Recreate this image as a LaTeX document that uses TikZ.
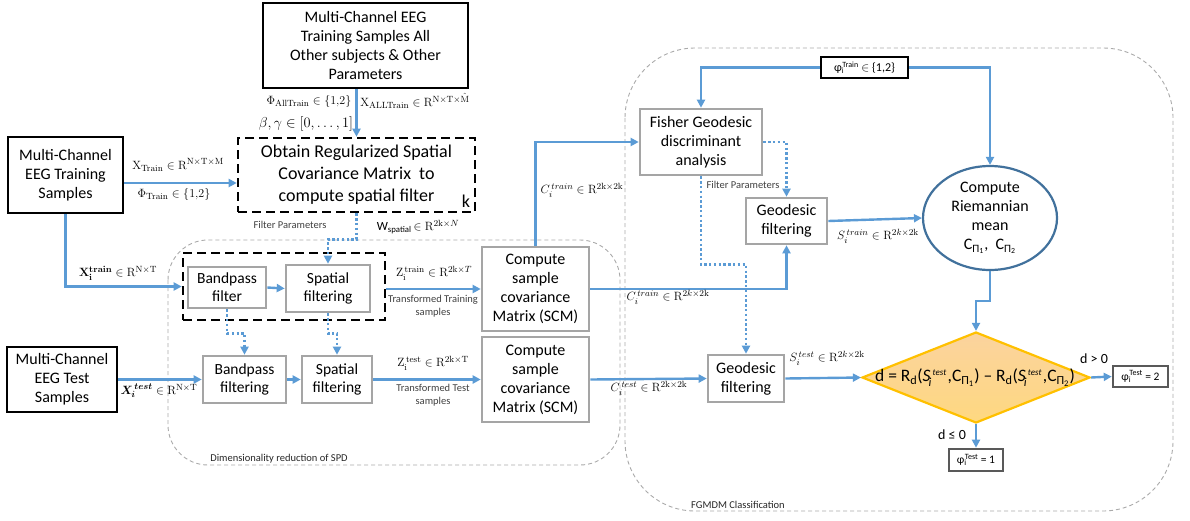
\documentclass[tikz,border=0pt]{standalone}
\usepackage{amsmath}
\usepackage[no-math]{fontspec}
\setmainfont{Carlito}
\usetikzlibrary{arrows.meta,shapes.geometric,calc}
\definecolor{flow}{RGB}{91,155,213}
\definecolor{boxgray}{RGB}{165,165,165}
\definecolor{regiongray}{RGB}{170,170,170}
\definecolor{ellblue}{RGB}{65,113,156}
\definecolor{gold}{RGB}{255,192,0}
\definecolor{notegray}{RGB}{64,64,64}
\definecolor{outgray}{RGB}{89,89,89}
\tikzset{
  mainbox/.style={draw=black, line width=2.6pt, fill=white, align=center, inner sep=0pt,
    font=\fontsize{16}{19}\selectfont},
  graybox/.style={draw=boxgray, line width=2.6pt, fill=white, align=center, inner sep=0pt,
    font=\fontsize{16}{19}\selectfont},
  smallbox/.style={graybox, font=\fontsize{15.5}{18}\selectfont},
  dashbox/.style={draw=black, line width=2.6pt, dash pattern=on 9pt off 5pt, align=center, inner sep=0pt},
  outbox/.style={draw=outgray, line width=2.6pt, fill=white, inner sep=0pt},
  region/.style={draw=regiongray, line width=0.9pt, dash pattern=on 4pt off 3pt},
  arr/.style={draw=flow, line width=2.4pt, -{Triangle[length=8pt,width=8pt]}},
  dotarr/.style={draw=flow, line width=2.4pt, dash pattern=on 2.4pt off 2.4pt, -{Triangle[length=8pt,width=8pt]}},
  lab/.style={inner sep=0pt, font=\fontsize{12.5}{15}\selectfont},
  note/.style={inner sep=0pt, text=notegray, font=\fontsize{10.5}{12.5}\selectfont, align=center},
}
\begin{document}
\begin{tikzpicture}[x=1pt,y=-1pt]
\useasboundingbox (0,0) rectangle (1190,520);

% grouping regions
\draw[region, rounded corners=40pt] (168,240) rectangle (620,465);
\draw[region, rounded corners=70pt] (625,48) rectangle (1173,511);
\node[inner sep=0pt, font=\fontsize{10.5}{12}\selectfont, text=black!85] (lspd) at (279,459) {Dimensionality reduction of SPD};
\node[inner sep=0pt, font=\fontsize{10.5}{12}\selectfont, text=black!85] (lfg) at (738,505) {FGMDM Classification};

% input boxes
\node[mainbox, minimum width=205pt, minimum height=85pt] (top) at (365.5,45.5)
  {Multi-Channel EEG\\Training Samples All\\Other subjects \& Other\\Parameters};
\node[mainbox, minimum width=115pt, minimum height=76pt] (trainbox) at (65.5,175)
  {Multi-Channel\\EEG Training\\Samples};
\node[mainbox, minimum width=110pt, minimum height=65pt] (testbox) at (62,379.5)
  {Multi-Channel\\EEG Test\\Samples};

% regularized CSP
\node[dashbox, minimum width=237pt, minimum height=74pt, font=\fontsize{18}{22}\selectfont] (reg) at (356.5,175)
  {Obtain Regularized Spatial\\Covariance Matrix~ to\\compute spatial filter};
\node[inner sep=0pt, font=\fontsize{18}{20}\selectfont] (kk) at (466,201) {k};

% filtering chain
\node[dashbox, minimum width=202pt, minimum height=67pt] (inner) at (284,286.5) {};
\node[smallbox, minimum width=78pt, minimum height=41pt] (bpf) at (227,287.5) {Bandpass\\filter};
\node[smallbox, minimum width=84pt, minimum height=47pt] (spf) at (328,288.5) {Spatial\\filtering};
\node[smallbox, minimum width=83pt, minimum height=47pt] (bpf2) at (244.5,379.5) {Bandpass\\filtering};
\node[smallbox, minimum width=70pt, minimum height=47pt] (spf2) at (337,379.5) {Spatial\\filtering};

\node[graybox, minimum width=107pt, minimum height=84pt] (scm1) at (535.5,289)
  {Compute\\sample\\covariance\\Matrix (SCM)};
\node[graybox, minimum width=107pt, minimum height=85pt] (scm2) at (535.5,379.5)
  {Compute\\sample\\covariance\\Matrix (SCM)};

% classification
\node[graybox, minimum width=122pt, minimum height=66pt] (fisher) at (701,142)
  {Fisher Geodesic\\discriminant\\analysis};
\node[graybox, minimum width=81pt, minimum height=46pt] (geo1) at (786.5,221) {Geodesic\\filtering};
\node[graybox, minimum width=76pt, minimum height=47pt] (geo2) at (746,378.5) {Geodesic\\filtering};
\node[mainbox, minimum width=87pt, minimum height=21pt, font=\fontsize{12}{14}\selectfont] (phitrain) at (864.5,67.5)
  {φ\textsubscript{i}\textsuperscript{\kern-0.25em Train} $\in$ \{1,2\}};
\node[ellipse, draw=ellblue, line width=2.2pt, fill=white, minimum width=134pt, minimum height=104pt,
  inner sep=0pt, align=center, font=\fontsize{16}{19}\selectfont] (ell) at (990,218)
  {Compute\\Riemannian\\mean\\C\textsubscript{Π\textsubscript{1}},~ C\textsubscript{Π\textsubscript{2}}};
\node[diamond, draw=gold, line width=2.2pt, top color={rgb,255:red,251;green,211;blue,158},
  bottom color={rgb,255:red,254;green,216;blue,128}, minimum width=228pt, minimum height=91pt,
  inner sep=0pt] (dia) at (976,377.5) {};
\node[inner sep=0pt, font=\fontsize{17.5}{20}\selectfont] (diatext) at (975,378)
  {d = R\textsubscript{d}(\textit{S}$_{\!\textit{i}}^{\,\textit{\small test}}$\kern0.05em,C\textsubscript{Π\textsubscript{1}}) -- R\textsubscript{d}(\textit{S}$_{\!\textit{i}}^{\,\textit{\small test}}$\kern0.05em,C\textsubscript{Π\textsubscript{2}})};
\node[outbox, minimum width=55pt, minimum height=21pt, font=\fontsize{11.5}{13}\selectfont] (pt2) at (1140.5,376.5)
  {φ\textsubscript{i}\textsuperscript{\kern-0.25em Test} = 2};
\node[outbox, minimum width=54pt, minimum height=22pt, font=\fontsize{11.5}{13}\selectfont] (pt1) at (976,460)
  {φ\textsubscript{i}\textsuperscript{\kern-0.25em Test} = 1};

% connectors: regularized filter estimation
\draw[arr] (top.south -| reg.north) -- (reg.north);
\draw[arr] ([yshift=-8pt]trainbox.east) -- ([yshift=-8pt]reg.west);
\draw[dotarr] (reg.south) -- ++(0,26) -| (spf.north);

% connectors: filtering chain
\draw[arr] (trainbox.south) |- (inner.west);
\draw[arr] (bpf.east) -- (spf.west);
\draw[dotarr] (bpf.south) -- ++(0,24) -| (bpf2.north);
\draw[dotarr] (spf.south) -- ++(0,20) -| (spf2.north);
\draw[arr] (testbox.east) -- (bpf2.west);
\draw[arr] (bpf2.east) -- (spf2.west);
\draw[arr] (inner.east |- scm1.west) -- (scm1.west);
\draw[arr] (spf2.east) -- (scm2.west);

% connectors: classification
\draw[arr] (scm1.north) |- (fisher.west);
\draw[arr] (scm1.east) -| (geo1.south);
\draw[arr] (scm2.east) -- (geo2.west);
\draw[dotarr] (fisher.east) -| (geo1.north);
\draw[dotarr] (fisher.south) -- ++(0,88) -| (geo2.north);
\draw[arr] (geo1.east) -- (ell.west);
\draw[arr] (phitrain.west) -| (fisher.north);
\draw[arr] (phitrain.east) -| (ell.north);
\draw[arr] (ell.south) -- ++(0,30) -| (dia.north);
\draw[arr] (geo2.east) -- (dia.west);
\draw[arr] (dia.east) -- (pt2.west);
\draw[arr] (dia.south) -- (pt1.north);

% edge labels
\node[lab] (l1) at (309,101) {$\Phi_{\mathrm{AllTrain}}\in\{1{,}2\}$};
\node[lab] (l2) at (415,101) {$\mathrm{X}_{\mathrm{ALLTrain}}\in\mathrm{R}^{\mathrm{N\times T\times}\hat{\mathrm{M}}}$};
\node[lab, font=\fontsize{14}{17}\selectfont] (l3) at (306,124) {$\beta,\gamma\in[0,\ldots,1]$};
\node[lab] (l4) at (178,165) {$\mathrm{X}_{\mathrm{Train}}\in\mathrm{R}^{\mathrm{N\times T\times M}}$};
\node[lab] (l5) at (174,194) {$\Phi_{\mathrm{Train}}\in\{1{,}2\}$};
\node[note] (l6) at (290,225) {Filter Parameters};
\node[lab] (l7) at (418,227) {W\textsubscript{spatial}$\,\in\mathrm{R}^{2\mathrm{k}\times N}$};
\node[lab] (l8) at (118,273) {$\mathbf{X}_{\mathbf{i}}^{\mathbf{train}}\in\mathrm{R}^{\mathrm{N\times T}}$};
\node[lab] (l9) at (159,391) {$\boldsymbol{X}_{\!\boldsymbol{i}}^{\,\boldsymbol{test}}\in\mathrm{R}^{\mathrm{N\times T}}$};
\node[lab] (l10) at (434,273) {$\mathrm{Z}_{\mathrm{i}}^{\,\mathrm{train}}\in\mathrm{R}^{2\mathrm{k}\times T}$};
\node[note] (l11) at (433,306) {Transformed Training\\samples};
\node[lab] (l12) at (433,363) {$\mathrm{Z}_{\mathrm{i}}^{\,\mathrm{test}}\in\mathrm{R}^{2\mathrm{k}\times\mathrm{T}}$};
\node[note] (l13) at (433,395) {Transformed Test\\samples};
\node[lab] (l14) at (582,190) {$C_{i}^{\,train}\in\mathrm{R}^{2\mathrm{k}\times2\mathrm{k}}$};
\node[lab] (l15) at (668,297) {$C_{i}^{\,train}\in\mathrm{R}^{2k\times2\mathrm{k}}$};
\node[lab] (l16) at (649,388) {$C_{i}^{\,test}\in\mathrm{R}^{2\mathrm{k}\times2\mathrm{k}}$};
\node[lab] (l17) at (827,358) {$S_{i}^{\,test}\in\mathrm{R}^{2k\times2\mathrm{k}}$};
\node[lab] (l18) at (878,236) {$S_{i}^{\,train}\in\mathrm{R}^{2k\times2\mathrm{k}}$};
\node[note] (l19) at (743,185) {Filter Parameters};
\node[lab, font=\fontsize{14}{16}\selectfont] (l20) at (1094,359) {d > 0};
\node[lab, font=\fontsize{14}{16}\selectfont] (l21) at (952,435) {d ≤ 0};
\end{tikzpicture}
\end{document}
